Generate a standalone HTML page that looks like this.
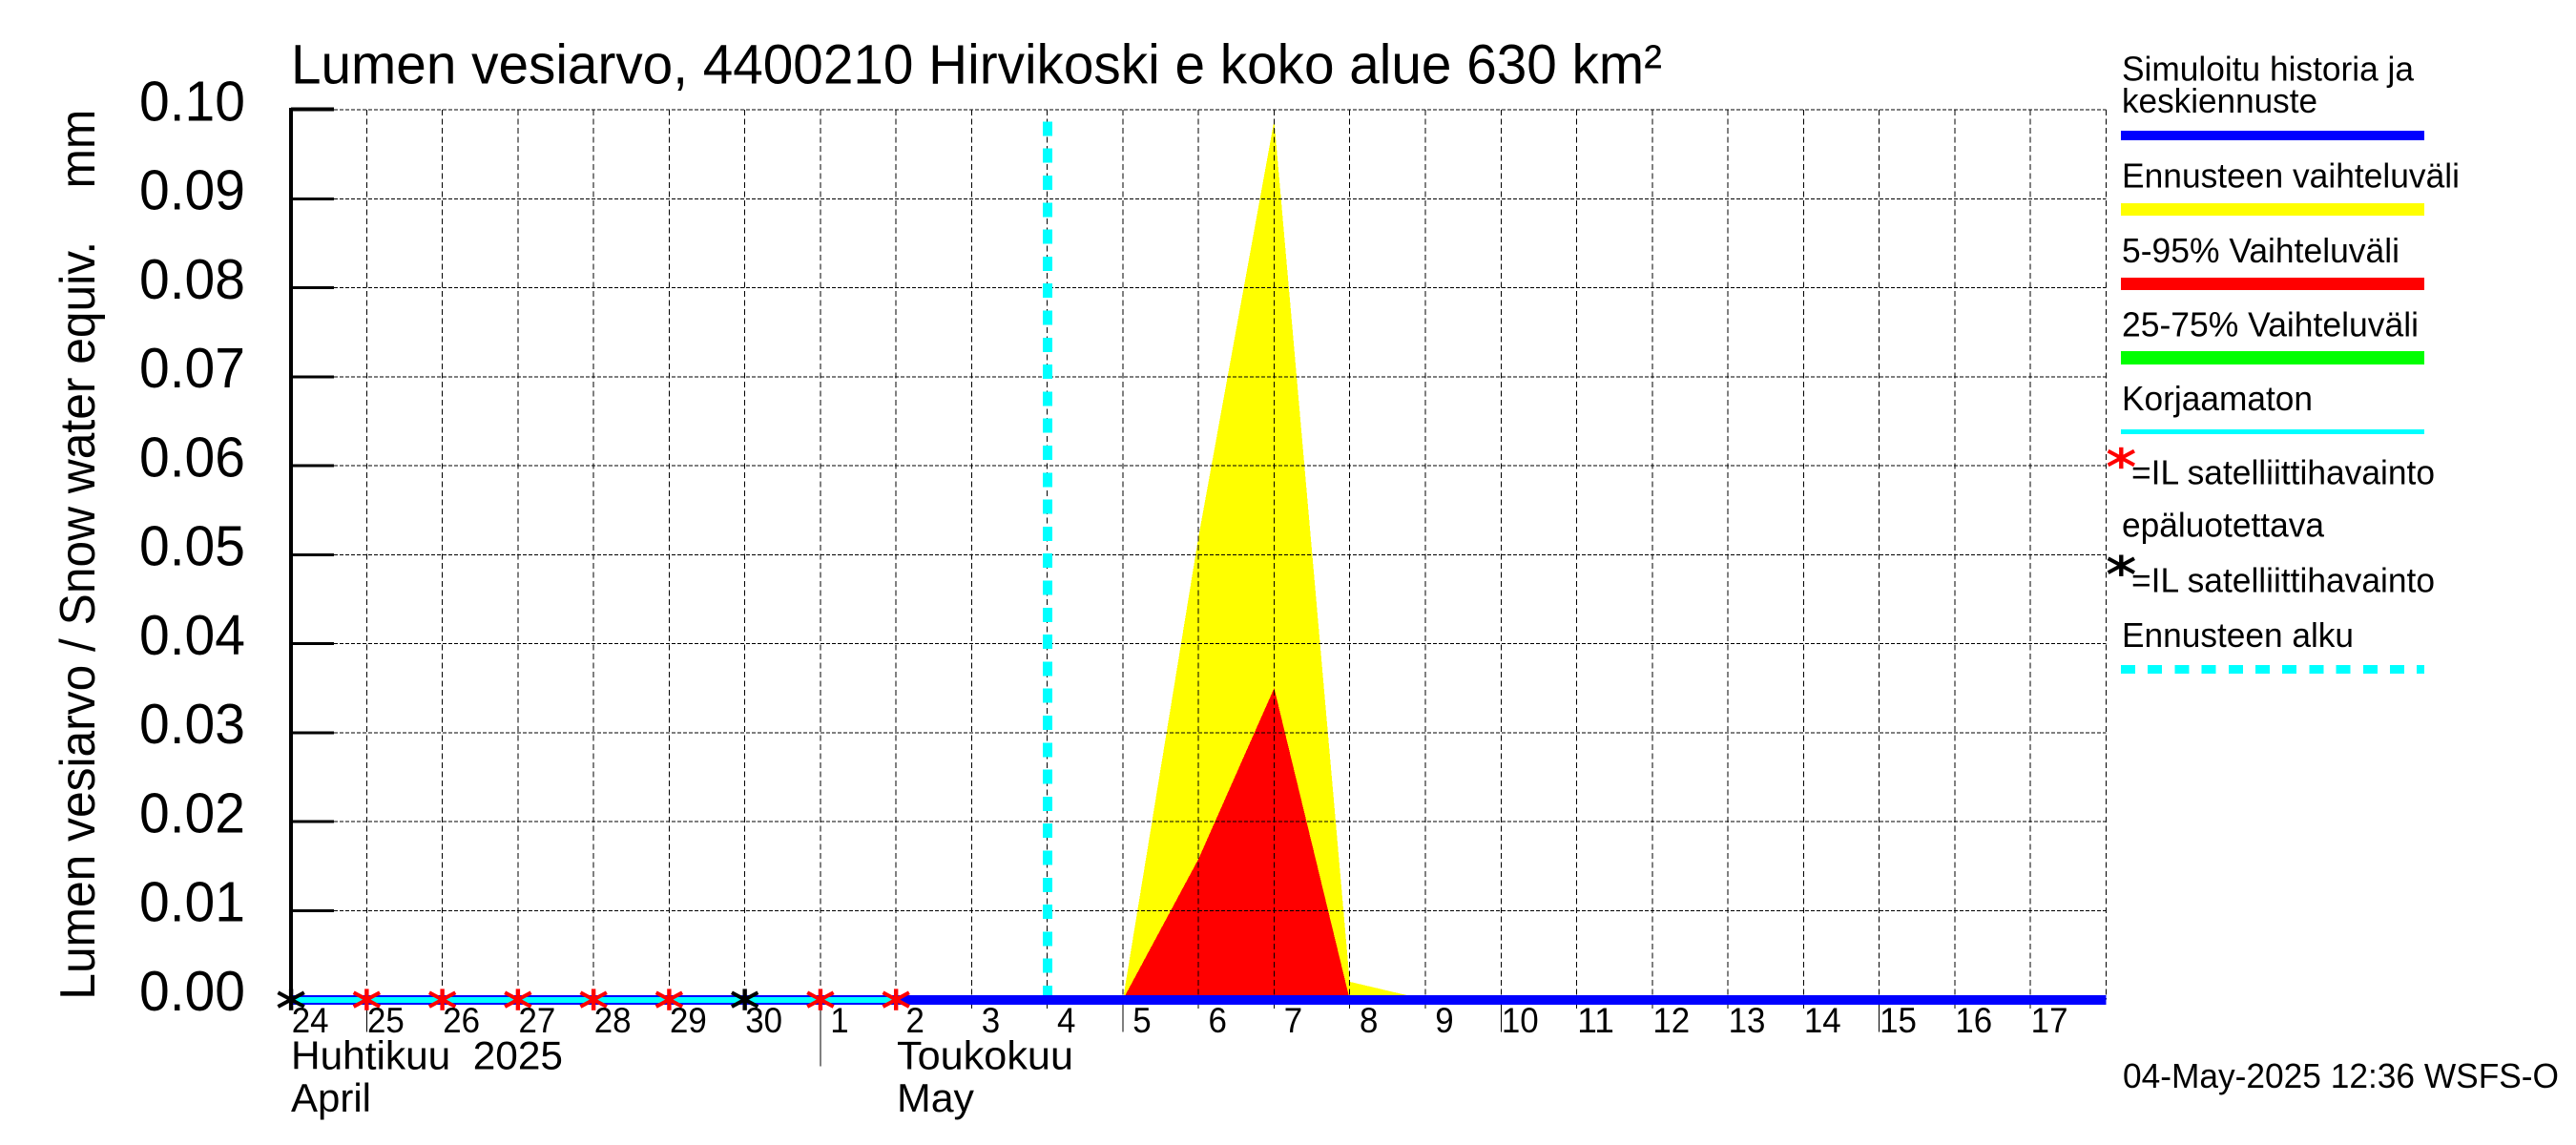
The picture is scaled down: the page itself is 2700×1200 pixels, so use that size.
<!DOCTYPE html>
<html lang="fi">
<head>
<meta charset="utf-8">
<title>Lumen vesiarvo</title>
<style>
html,body{margin:0;padding:0;background:#fff;}
svg{display:block;}
text{font-family:"Liberation Sans",sans-serif;fill:#000;white-space:pre;}
</style>
</head>
<body>
<svg id="chart" xmlns="http://www.w3.org/2000/svg" width="2700" height="1200" viewBox="0 0 2700 1200">
  <rect x="0" y="0" width="2700" height="1200" fill="#fff"/>
  <g id="fills" shape-rendering="crispEdges"></g>
  <g id="grid" shape-rendering="crispEdges"></g>
  <g id="ticks" shape-rendering="crispEdges"></g>
  <g id="lines" shape-rendering="crispEdges"></g>
  <g id="stars"></g>
  <g id="labels"></g>

  <text x="305" y="87.5" font-size="58" textLength="1437" lengthAdjust="spacingAndGlyphs">Lumen vesiarvo, 4400210 Hirvikoski e koko alue 630 km²</text>
  <text transform="translate(99,1047.7) rotate(-90)" font-size="52" textLength="933" lengthAdjust="spacingAndGlyphs">Lumen vesiarvo / Snow water equiv.    mm</text>

  <text x="305" y="1120.7" font-size="42" textLength="285" lengthAdjust="spacingAndGlyphs">Huhtikuu  2025</text>
  <text x="305" y="1165" font-size="42" textLength="84" lengthAdjust="spacingAndGlyphs">April</text>
  <text x="940" y="1120.7" font-size="42" textLength="185" lengthAdjust="spacingAndGlyphs">Toukokuu</text>
  <text x="940" y="1165" font-size="42" textLength="81" lengthAdjust="spacingAndGlyphs">May</text>

  <g>
    <text x="2224" y="84.3" font-size="36" textLength="306" lengthAdjust="spacingAndGlyphs">Simuloitu historia ja</text>
    <text x="2224" y="118" font-size="36" textLength="205" lengthAdjust="spacingAndGlyphs">keskiennuste</text>
    <rect x="2223" y="137" width="318" height="10" fill="#0000ff"/>
    <text x="2224" y="196.7" font-size="36" textLength="354" lengthAdjust="spacingAndGlyphs">Ennusteen vaihteluväli</text>
    <rect x="2223" y="213" width="318" height="13" fill="#ffff00"/>
    <text x="2224" y="275" font-size="36" textLength="291" lengthAdjust="spacingAndGlyphs">5-95% Vaihteluväli</text>
    <rect x="2223" y="291" width="318" height="13" fill="#ff0000"/>
    <text x="2224" y="352.7" font-size="36" textLength="311" lengthAdjust="spacingAndGlyphs">25-75% Vaihteluväli</text>
    <rect x="2223" y="368" width="318" height="14" fill="#00ff00"/>
    <text x="2224" y="430" font-size="36" textLength="200" lengthAdjust="spacingAndGlyphs">Korjaamaton</text>
    <rect x="2223" y="450" width="318" height="5" fill="#00ffff"/>
    <text x="2234" y="507.7" font-size="36" textLength="318" lengthAdjust="spacingAndGlyphs">=IL satelliittihavainto</text>
    <text x="2224" y="562.7" font-size="36" textLength="212" lengthAdjust="spacingAndGlyphs">epäluotettava</text>
    <text x="2234" y="620.7" font-size="36" textLength="318" lengthAdjust="spacingAndGlyphs">=IL satelliittihavainto</text>
    <text x="2224" y="678" font-size="36" textLength="243" lengthAdjust="spacingAndGlyphs">Ennusteen alku</text>
    <line x1="2223" y1="701.5" x2="2541" y2="701.5" stroke="#00ffff" stroke-width="9" stroke-dasharray="15 13.2" shape-rendering="crispEdges"/>
  </g>

  <text x="2225" y="1140" font-size="36" textLength="457" lengthAdjust="spacingAndGlyphs">04-May-2025 12:36 WSFS-O</text>
</svg>
<script>
const dayLabels = ['24','25','26','27','28','29','30','1','2','3','4','5','6','7','8','9','10','11','12','13','14','15','16','17'];
const yTickLabels = ['0.00','0.01','0.02','0.03','0.04','0.05','0.06','0.07','0.08','0.09','0.10'];
const yTickValues = [0,0.01,0.02,0.03,0.04,0.05,0.06,0.07,0.08,0.09,0.10];
const rangeMaxValues = [0,0,0,0,0,0,0,0,0,0,0,0,0.052,0.0988,0.002,0,0,0,0,0,0,0,0,0,0];
const p95Values = [0,0,0,0,0,0,0,0,0,0,0,0,0.0158,0.035,0,0,0,0,0,0,0,0,0,0,0];
const meanValues = [0,0,0,0,0,0,0,0,0,0,0,0,0,0,0,0,0,0,0,0,0,0,0,0,0];
const uncorrectedValues = [0,0,0,0,0,0,0,0,0];
const unreliableObsDays = [1,2,3,4,5,7,8];
const unreliableObsValues = [0,0,0,0,0,0,0];
const satelliteObsDays = [0,6];
const satelliteObsValues = [0,0];
const longTickDays = [1,11,16,21];
const monthTickDays = [7];
const forecastStartDay = 10;
const forecastStartTop = 0.0986;

const NS = 'http://www.w3.org/2000/svg';
const plotLeft = 305.1, dayWidth = 79.26, zeroY = 1047.6, yScale = 9326;
const xAxis = function (d) { return plotLeft + dayWidth * d; };
const yAxis = function (v) { return zeroY - v * yScale; };
const plotRight = xAxis(24), plotTop = yAxis(0.10);

function make(parent, tag, attrs) {
  const el = document.createElementNS(NS, tag);
  for (const k in attrs) el.setAttribute(k, attrs[k]);
  parent.appendChild(el);
  return el;
}
function bandPoints(values) {
  const pts = values.map(function (v, i) { return xAxis(i).toFixed(1) + ',' + yAxis(v).toFixed(1); });
  pts.push(xAxis(values.length - 1).toFixed(1) + ',' + yAxis(0).toFixed(1));
  pts.push(xAxis(0).toFixed(1) + ',' + yAxis(0).toFixed(1));
  return pts.join(' ');
}

const fills = document.getElementById('fills');
const bandMax = make(fills, 'polygon', { points: bandPoints(rangeMaxValues), fill: '#ffff00' });


const band95 = make(fills, 'polygon', { points: bandPoints(p95Values), fill: '#ff0000' });



const grid = document.getElementById('grid');
yTickValues.forEach(function (v) {
  const g = make(grid, 'line', { x1: 350, x2: plotRight, y1: yAxis(v), y2: yAxis(v), stroke: '#000', 'stroke-width': 1, 'stroke-dasharray': '4 2' });
  
  
});
for (let d = 1; d <= 24; d++) {
  const g = make(grid, 'line', { x1: xAxis(d), x2: xAxis(d), y1: plotTop, y2: yAxis(0), stroke: '#000', 'stroke-width': 1, 'stroke-dasharray': '6 3.5' });
  
  
}

const ticks = document.getElementById('ticks');
for (let d = 1; d < 24; d++) {
  let end = 1057;
  if (longTickDays.indexOf(d) >= 0) end = 1081.7;
  if (monthTickDays.indexOf(d) >= 0) end = 1117.7;
  const t = make(ticks, 'line', { x1: xAxis(d), x2: xAxis(d), y1: yAxis(0), y2: end, stroke: '#000', 'stroke-width': 1 });
  
  
}
yTickValues.forEach(function (v, i) {
  const top = i === yTickValues.length - 1;
  const t = make(ticks, 'line', { x1: plotLeft, x2: 350, y1: yAxis(v) - (top ? 0.6 : 0), y2: yAxis(v) - (top ? 0.6 : 0), stroke: '#000', 'stroke-width': top ? 4 : 3 });
  
  
});
const yLine = make(ticks, 'rect', { x: 303, y: 113, width: 4, height: 945, fill: '#000' });



const lines = document.getElementById('lines');
const fcLine = make(lines, 'line', { x1: xAxis(forecastStartDay) + 0.4, x2: xAxis(forecastStartDay) + 0.4, y1: yAxis(forecastStartTop) - 0.7, y2: yAxis(0), stroke: '#00ffff', 'stroke-width': 10, 'stroke-dasharray': '15 13.3' });


const meanLine = make(lines, 'polyline', { points: meanValues.map(function (v, i) { return xAxis(i) + ',' + (yAxis(v) + 0.4); }).join(' '), fill: 'none', stroke: '#0000ff', 'stroke-width': 10 });


const uncLine = make(lines, 'polyline', { points: uncorrectedValues.map(function (v, i) { return xAxis(i) + ',' + (yAxis(v) + 0.4); }).join(' '), fill: 'none', stroke: '#00ffff', 'stroke-width': 6 });



function star(parent, cx, cy, color) {
  const g = make(parent, 'g', { stroke: color, 'stroke-width': 4, fill: 'none' });
  make(g, 'line', { x1: cx, x2: cx, y1: cy - 11.2, y2: cy + 11.2, 'stroke-width': 4.4 });
  make(g, 'line', { x1: cx - 13.7, x2: cx + 13.7, y1: cy - 7.4, y2: cy + 7.4 });
  make(g, 'line', { x1: cx - 13.7, x2: cx + 13.7, y1: cy + 7.4, y2: cy - 7.4 });
  return g;
}
const stars = document.getElementById('stars');
unreliableObsDays.forEach(function (d, i) {
  const s = star(stars, xAxis(d), yAxis(unreliableObsValues[i]), '#ff0000');
  
  
});
satelliteObsDays.forEach(function (d, i) {
  const s = star(stars, xAxis(d), yAxis(satelliteObsValues[i]), '#000000');
  
  
});
const legendRed = star(stars, 2223.3, 480, '#ff0000');


const legendBlack = star(stars, 2223.3, 592.7, '#000000');



const labels = document.getElementById('labels');
dayLabels.forEach(function (txt, d) {
  const t = make(labels, 'text', { x: xAxis(d) + 20, y: 1082, 'font-size': 37, 'text-anchor': 'middle', textLength: txt.length * 19.4, lengthAdjust: 'spacingAndGlyphs' });
  
  
  t.textContent = txt;
});
yTickLabels.forEach(function (txt, i) {
  const t = make(labels, 'text', { x: 257, y: yAxis(yTickValues[i]) + 11.3, 'font-size': 59, 'text-anchor': 'end', textLength: 111, lengthAdjust: 'spacingAndGlyphs' });
  
  
  t.textContent = txt;
});
</script>
</body>
</html>
